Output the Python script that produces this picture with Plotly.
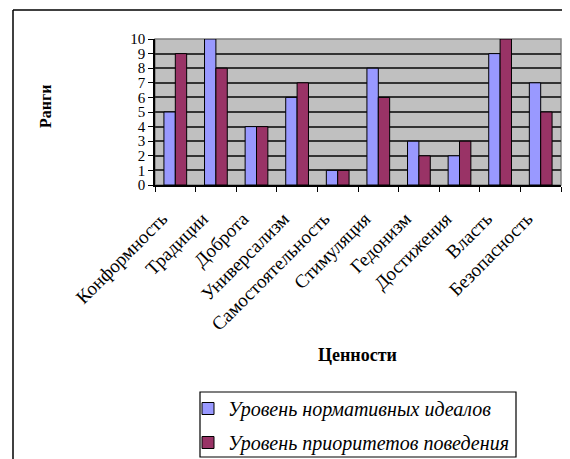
import plotly.graph_objects as go

categories = ["Конформность", "Традиции", "Доброта", "Универсализм", "Самостоятельность",
              "Стимуляция", "Гедонизм", "Достижения", "Власть", "Безопасность"]
ideals = [5, 10, 4, 6, 1, 8, 3, 2, 9, 7]
behaviour = [9, 8, 4, 7, 1, 6, 2, 3, 10, 5]
series_names = ["Уровень нормативных идеалов", "Уровень приоритетов поведения"]
y_ticks = list(range(0, 11))

OFF = 8  # page body margin
W, H = 570 - OFF, 459 - OFF
# plot area in reference pixel coordinates
L, T, R, B = 155, 39, 561, 185

FONT = "Liberation Serif, Times New Roman, serif"

fig = go.Figure()
fig.add_trace(go.Bar(x=categories, y=ideals, name=series_names[0], legendgroup="a",
                     marker=dict(color="#9999FF", line=dict(color="black", width=1))))
fig.add_trace(go.Bar(x=categories, y=behaviour, name=series_names[1], legendgroup="b",
                     marker=dict(color="#993366", line=dict(color="black", width=1))))

def px(x):
    return (x - L) / (R - L)

def py(y):
    return (B - y) / (B - T)

pad = "\u00a0" * 4

fig.update_layout(
    width=W, height=H,
    margin=dict(l=L - OFF, r=570 - R, t=T - OFF, b=459 - B, autoexpand=False),
    paper_bgcolor="white",
    plot_bgcolor="#C0C0C0",
    barmode="group",
    bargap=0.44,
    bargroupgap=0,
    font=dict(family=FONT, color="black"),
    showlegend=True,
    legend=dict(
        x=px(188), y=py(389), xanchor="left", yanchor="top",
        borderwidth=0, bgcolor="rgba(0,0,0,0)",
        font=dict(family=FONT, size=20, style="italic", color="black"),
        tracegroupgap=5,
        itemwidth=30,
    ),
    xaxis=dict(
        type="category",
        tickangle=-45,
        automargin=False,
        tickmode="array", tickvals=categories, ticktext=[c + pad for c in categories],
        tickfont=dict(family=FONT, size=19, color="black"),
        showline=True, linecolor="black", linewidth=1.5,
        ticks="outside", tickson="boundaries", ticklen=5, tickcolor="black",
        showgrid=False,
        fixedrange=True,
    ),
    yaxis=dict(
        range=[0, 10],
        automargin=False,
        tickmode="array", tickvals=y_ticks, ticktext=[str(v) for v in y_ticks],
        tickfont=dict(family=FONT, size=15, color="black"),
        showline=True, linecolor="black", linewidth=1.5,
        ticks="outside", ticklen=5, tickcolor="black",
        showgrid=True, gridcolor="#333333", gridwidth=1.5,
        zeroline=False,
    ),
    shapes=[
        dict(type="rect", xref="paper", yref="paper", x0=0, x1=1, y0=0, y1=1,
             line=dict(color="#808080", width=1.5), layer="below"),
        # outer frame: left and top
        dict(type="line", xref="paper", yref="paper", x0=px(13), x1=px(13), y0=py(10), y1=py(470),
             line=dict(color="black", width=1.5)),
        dict(type="line", xref="paper", yref="paper", x0=px(13), x1=px(580), y0=py(10), y1=py(10),
             line=dict(color="black", width=1.5)),
        # legend box
        dict(type="rect", xref="paper", yref="paper", x0=px(200), x1=px(516), y0=py(392), y1=py(457),
             line=dict(color="black", width=1.2)),
    ],
    annotations=[
        dict(text="<b>Ранги</b>", xref="paper", yref="paper", x=px(45), y=py(107),
             xanchor="center", yanchor="middle",
             textangle=-90, showarrow=False, font=dict(family=FONT, size=16, color="black")),
        dict(text="<b>Ценности</b>", xref="paper", yref="paper", x=px(357), y=py(355),
             xanchor="center", yanchor="middle",
             showarrow=False, font=dict(family=FONT, size=18, color="black")),
    ],
)

fig.write_html("out.html")
